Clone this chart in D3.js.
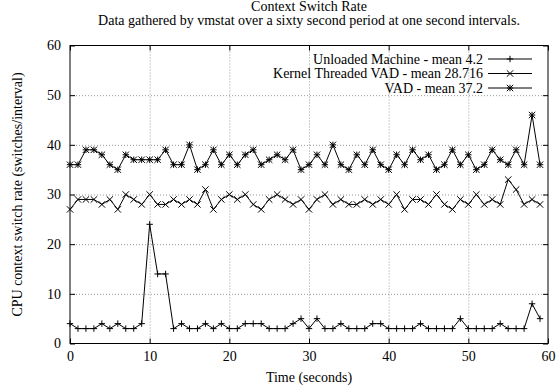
<!DOCTYPE html>
<html>
<head>
<meta charset="utf-8">
<script src="https://cdn.jsdelivr.net/npm/d3@7"></script>
<style>
  body { margin: 0; background: #fff; }
  svg { font-family: "Liberation Serif", "Times New Roman", serif; }
  .grid line { stroke: #999; stroke-dasharray: 1,2; }
  .grid path { display: none; }
</style>
</head>
<body>
<svg id="chart" width="557" height="387"></svg>
<script>
// vmstat context switches per second, 60 samples
const seconds = d3.range(0, 60);
const unloaded = [4,3,3,3,4,3,4,3,3,4, 24,14,14,3,4,3,3,4,3,4,
  3,3,4,4,4,3,3,3,4,5, 3,5,3,3,4,3,3,3,4,4,
  3,3,3,3,4,3,3,3,3,5, 3,3,3,3,4,3,3,3,8,5];
const kernelVad = [27,29,29,29,28,29,27,30,29,28, 30,28,28,29,28,29,28,31,27,29,
  30,29,30,28,27,29,30,29,28,29, 27,29,30,28,29,28,28,29,28,29,
  28,30,27,29,29,28,30,28,27,29, 28,30,28,29,28,33,31,28,29,28];
const vad = [36,36,39,39,38,36,35,38,37,37, 37,37,39,36,36,40,35,36,39,36,
  38,36,38,39,36,37,38,37,39,35, 36,38,36,40,36,35,38,36,39,36,
  35,38,36,39,37,38,35,36,39,36, 38,35,36,39,37,36,39,36,46,36];
const seriesNames = ['Unloaded Machine - mean 4.2', 'Kernel Threaded VAD - mean 28.716', 'VAD - mean 37.2'];
const markers = ['plus', 'cross', 'star'];
const xTicks = [0, 10, 20, 30, 40, 50, 60];
const yTicks = [0, 10, 20, 30, 40, 50, 60];

const svg = d3.select('#chart');
const pLeft = 70, pRight = 548, pTop = 45.5, pBottom = 343.5;
const fontSize = 14;
const serif = '"Liberation Serif", "Times New Roman", serif';

const x = d3.scaleLinear().domain([0, 60]).range([pLeft, pRight]);
const y = d3.scaleLinear().domain([0, 60]).range([pBottom, pTop]);

// grid
svg.append('g').attr('class', 'grid')
  .attr('transform', `translate(0,${pBottom})`)
  .call(d3.axisBottom(x).tickValues(xTicks.slice(1, -1)).tickSize(-(pBottom - pTop)).tickFormat(''));
svg.append('g').attr('class', 'grid')
  .attr('transform', `translate(${pLeft},0)`)
  .call(d3.axisLeft(y).tickValues(yTicks.slice(1, -1)).tickSize(-(pRight - pLeft)).tickFormat(''));

// axes, ticks pointing in
const tickLen = 5;
const styleAxis = g => {
  g.attr('font-family', serif).attr('font-size', fontSize);
  g.select('.domain').remove();
  g.selectAll('line').attr('stroke', '#000');
  g.selectAll('text').attr('fill', '#000');
};
svg.append('g').attr('transform', `translate(0,${pBottom})`)
  .call(d3.axisBottom(x).tickValues(xTicks).tickSize(-tickLen).tickPadding(8))
  .call(styleAxis);
svg.append('g').attr('transform', `translate(0,${pTop})`)
  .call(d3.axisTop(x).tickValues(xTicks).tickSize(-tickLen).tickFormat(''))
  .call(styleAxis);
svg.append('g').attr('transform', `translate(${pLeft},0)`)
  .call(d3.axisLeft(y).tickValues(yTicks).tickSize(-tickLen).tickPadding(9))
  .call(styleAxis);
svg.append('g').attr('transform', `translate(${pRight},0)`)
  .call(d3.axisRight(y).tickValues(yTicks).tickSize(-tickLen).tickFormat(''))
  .call(styleAxis);

svg.append('rect')
  .attr('x', pLeft).attr('y', pTop)
  .attr('width', pRight - pLeft).attr('height', pBottom - pTop)
  .attr('fill', 'none').attr('stroke', '#000').attr('stroke-width', 1);

// marker shapes
const ms = 3.2;
function markerPath(kind, cx, cy) {
  const p = d3.path();
  if (kind === 'plus' || kind === 'star') {
    p.moveTo(cx - ms, cy); p.lineTo(cx + ms, cy);
    p.moveTo(cx, cy - ms); p.lineTo(cx, cy + ms);
  }
  if (kind === 'cross' || kind === 'star') {
    p.moveTo(cx - ms, cy - ms); p.lineTo(cx + ms, cy + ms);
    p.moveTo(cx - ms, cy + ms); p.lineTo(cx + ms, cy - ms);
  }
  return p.toString();
}

const allSeries = [unloaded, kernelVad, vad];
const line = d3.line().x((d, i) => x(seconds[i])).y(d => y(d));

allSeries.forEach((vals, k) => {
  svg.append('path')
    .attr('d', line(vals))
    .attr('fill', 'none').attr('stroke', '#000').attr('stroke-width', 1);
  svg.append('g').selectAll('path')
    .data(vals)
    .join('path')
    .attr('d', (d, i) => markerPath(markers[k], x(seconds[i]), y(d)))
    .attr('stroke', '#000').attr('stroke-width', 1).attr('fill', 'none');
});

// legend
const legend = svg.append('g').attr('font-family', serif).attr('font-size', fontSize);
seriesNames.forEach((name, k) => {
  const ly = 59 + k * 14.5;
  legend.append('text')
    .attr('x', 483).attr('y', ly).attr('dy', '0.35em')
    .attr('text-anchor', 'end')
    .text(name);
  legend.append('line')
    .attr('x1', 488).attr('x2', 532).attr('y1', ly).attr('y2', ly)
    .attr('stroke', '#000');
  legend.append('path')
    .attr('d', markerPath(markers[k], 510, ly))
    .attr('stroke', '#000').attr('fill', 'none');
});

// titles
const labels = svg.append('g').attr('font-family', serif).attr('font-size', fontSize)
  .attr('text-anchor', 'middle');
labels.append('text').attr('x', 309).attr('y', 11)
  .text('Context Switch Rate');
labels.append('text').attr('x', 309).attr('y', 25)
  .text('Data gathered by vmstat over a sixty second period at one second intervals.');
labels.append('text').attr('x', 309).attr('y', 382)
  .text('Time (seconds)');
labels.append('text')
  .attr('transform', `translate(22,${(pTop + pBottom) / 2}) rotate(-90)`)
  .text('CPU context switch rate (switches/interval)');
</script>
</body>
</html>
